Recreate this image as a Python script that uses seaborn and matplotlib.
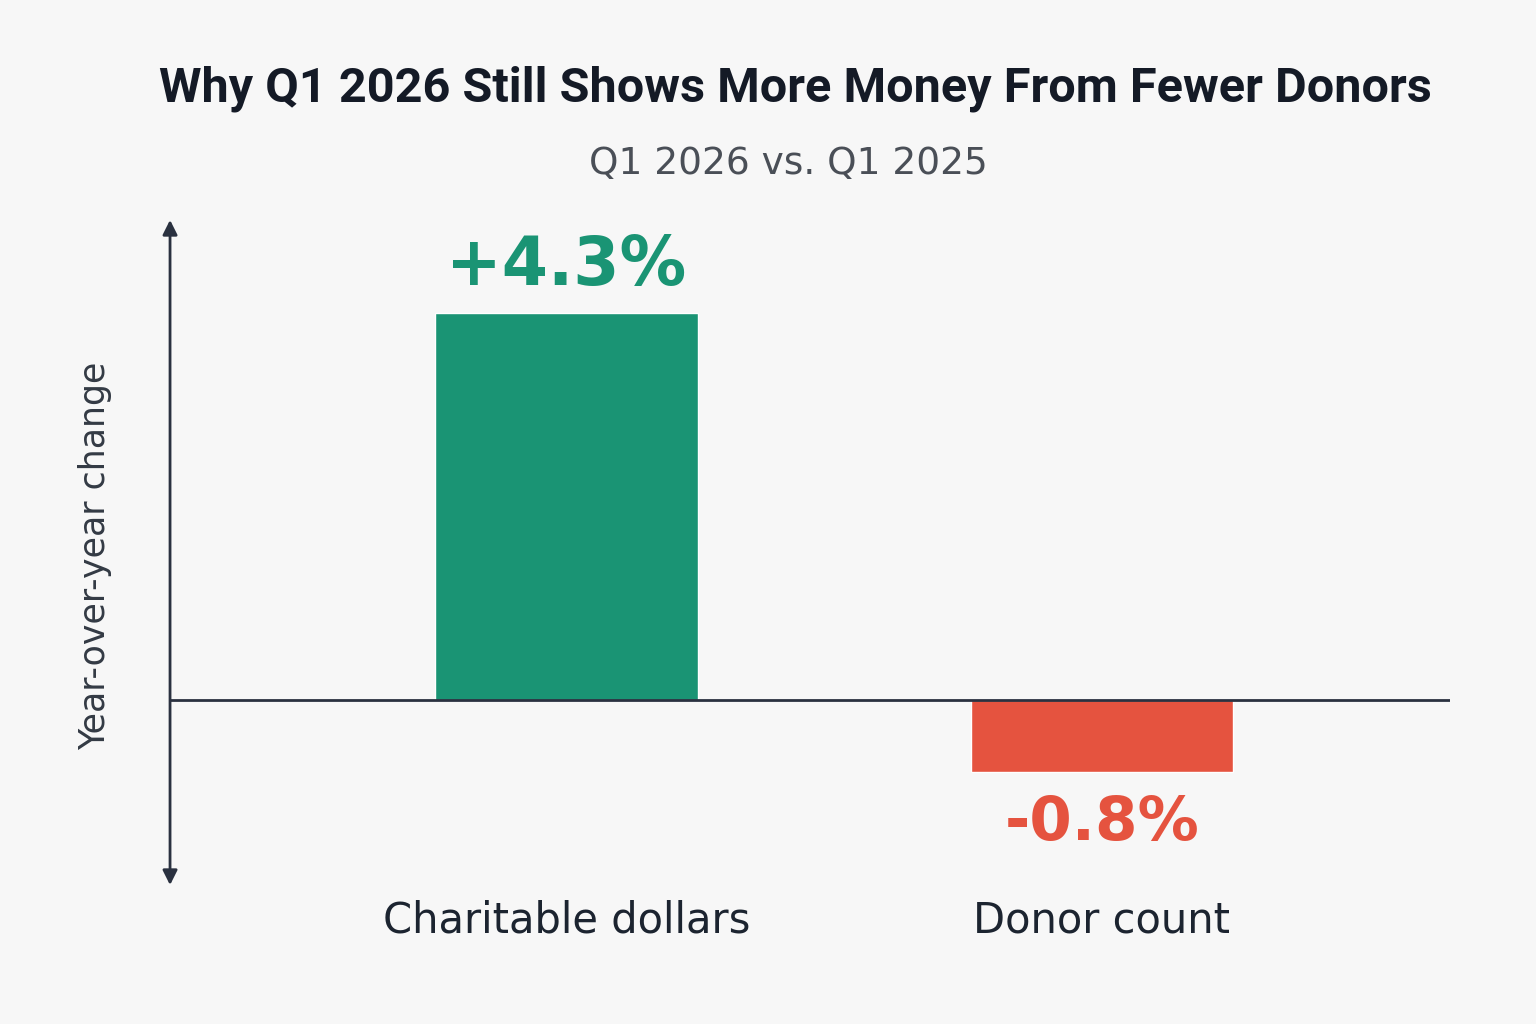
import matplotlib
matplotlib.use("Agg")
import matplotlib.pyplot as plt
import seaborn as sns
import pandas as pd

categories = ["Charitable dollars", "Donor count"]
values = [4.3, -0.8]
labels = ["+4.3%", "-0.8%"]
colors = ["#1a9474", "#e5533f"]

sns.set_theme(style="white")
plt.rcParams['font.family'] = ['DejaVu Sans']
bg = "#f7f7f7"
fig = plt.figure(figsize=(15.36, 10.24), dpi=100, facecolor=bg)
ax = fig.add_axes([0.1107, 0.1357, 0.8333, 0.6495])
ax.set_facecolor(bg)
df = pd.DataFrame({"cat": categories, "val": values})
sns.barplot(data=df, x="cat", y="val", hue="cat", palette=colors, width=0.49,
            legend=False, ax=ax, saturation=1)
ax.set_xlim(-0.74, 1.65)
ax.set_ylim(-2.06, 5.33)
for s in ax.spines.values():
    s.set_visible(False)
ax.set_xticks([]); ax.set_yticks([])
ax.set_xlabel(""); ax.set_ylabel("")
ax.axhline(0, color="#2a3140", lw=2)
ax.annotate("", xy=(0, 1.0), xytext=(0, 0), xycoords="axes fraction",
            arrowprops=dict(arrowstyle="<|-|>", color="#2a3140", lw=2, mutation_scale=22, shrinkA=0, shrinkB=0))
for i, (v, l, c) in enumerate(zip(values, labels, colors)):
    off = 0.15 if v > 0 else -0.25
    ax.text(i, v + off, l, ha="center", va="bottom" if v > 0 else "top",
            fontsize=48 if v > 0 else 44, fontweight="bold", color=c)
    ax.text(i, -2.45, categories[i], ha="center", va="center", fontsize=30, color="#1c2430")
ax.text(-0.88, 1.6, "Year-over-year change", rotation=90, ha="center", va="center",
        fontsize=25, color="#333a44")
fig.text(0.518, 0.913, "Why Q1 2026 Still Shows More Money From Fewer Donors", ha="center",
         va="center", fontsize=35, fontweight="bold", color="#141a26", family=["Roboto", "DejaVu Sans"])
fig.text(0.513, 0.84, "Q1 2026 vs. Q1 2025", ha="center", va="center", fontsize=27, color="#4a4f57")
fig.savefig("out.png", dpi=100, facecolor=bg)
